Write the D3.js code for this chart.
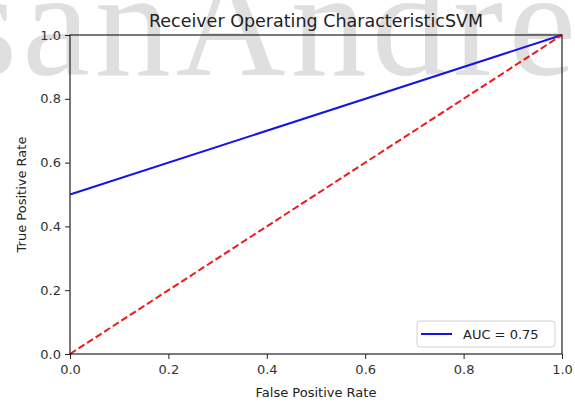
<!DOCTYPE html>
<html>
<head>
<meta charset="utf-8">
<script src="https://cdn.jsdelivr.net/npm/d3@7"></script>
<style>
  body { margin: 0; background: #fff; }
  svg { display: block; font-family: "DejaVu Sans", sans-serif; }
</style>
</head>
<body>
<div id="chart"></div>
<script>
// ROC data (visible part of the curve)
const fpr = [0, 1];
const tpr = [0.5, 1];
const chanceX = [0, 1];
const chanceY = [0, 1];
const ticks = [0, 0.2, 0.4, 0.6, 0.8, 1.0];
const legendLabel = "AUC = 0.75";
const titleText = "Receiver Operating CharacteristicSVM";
const watermark = "sanAndre";

const width = 575, height = 405;
const margin = {top: 35, right: 13, bottom: 51, left: 70};

const svg = d3.select("#chart").append("svg")
  .attr("width", width)
  .attr("height", height);

// watermark behind everything
svg.append("text")
  .attr("x", -42)
  .attr("y", 75)
  .attr("font-family", "Liberation Serif")
  .attr("font-size", 152)
  .attr("fill", "#dfdfdf")
  .attr("textLength", 618)
  .attr("lengthAdjust", "spacing")
  .text(watermark);

const x = d3.scaleLinear().domain([0, 1]).range([margin.left, width - margin.right]);
const y = d3.scaleLinear().domain([0, 1]).range([height - margin.bottom, margin.top]);

const line = d3.line().x(d => x(d[0])).y(d => y(d[1]));

// ROC curve
svg.append("path")
  .datum(d3.zip(fpr, tpr))
  .attr("d", line)
  .attr("fill", "none")
  .attr("stroke", "#1414e6")
  .attr("stroke-width", 2);

// chance line
svg.append("path")
  .datum(d3.zip(chanceX, chanceY))
  .attr("d", line)
  .attr("fill", "none")
  .attr("stroke", "#f01818")
  .attr("stroke-width", 2)
  .attr("stroke-dasharray", "7,3.2");

// axes
const xAxis = svg.append("g")
  .attr("transform", `translate(0,${y(0)})`)
  .call(d3.axisBottom(x).tickValues(ticks).tickFormat(d3.format(".1f")).tickSize(5).tickPadding(6));
const yAxis = svg.append("g")
  .attr("transform", `translate(${x(0)},0)`)
  .call(d3.axisLeft(y).tickValues(ticks).tickFormat(d3.format(".1f")).tickSize(5).tickPadding(4));

[xAxis, yAxis].forEach(g => {
  g.select(".domain").remove();
  g.selectAll("line").attr("stroke", "#222").attr("stroke-width", 1);
  g.selectAll("text").attr("font-size", 13).attr("fill", "#333")
    .attr("font-family", "DejaVu Sans");
});

// spines drawn on top
svg.append("rect")
  .attr("x", x(0))
  .attr("y", y(1))
  .attr("width", x(1) - x(0))
  .attr("height", y(0) - y(1))
  .attr("fill", "none")
  .attr("stroke", "#222")
  .attr("stroke-width", 1.2);

// title + labels
svg.append("text")
  .attr("x", (x(0) + x(1)) / 2)
  .attr("y", 27)
  .attr("text-anchor", "middle")
  .attr("font-size", 17.5)
  .attr("fill", "#222")
  .text(titleText);

svg.append("text")
  .attr("x", (x(0) + x(1)) / 2)
  .attr("y", 397)
  .attr("text-anchor", "middle")
  .attr("font-size", 13)
  .attr("fill", "#222")
  .text("False Positive Rate");

svg.append("text")
  .attr("transform", `translate(26,${(y(0) + y(1)) / 2}) rotate(-90)`)
  .attr("text-anchor", "middle")
  .attr("font-size", 13)
  .attr("fill", "#222")
  .text("True Positive Rate");

// legend
const lg = svg.append("g").attr("transform", `translate(${x(1) - 145},${y(0) - 33})`);
lg.append("rect")
  .attr("width", 138).attr("height", 26)
  .attr("rx", 3)
  .attr("fill", "#fff").attr("fill-opacity", 0.8)
  .attr("stroke", "#d0d0d0");
lg.append("line")
  .attr("x1", 4).attr("x2", 35).attr("y1", 13).attr("y2", 13)
  .attr("stroke", "#1414e6").attr("stroke-width", 2);
lg.append("text")
  .attr("x", 46).attr("y", 17.5)
  .attr("font-size", 13)
  .attr("fill", "#222")
  .text(legendLabel);
</script>
</body>
</html>
